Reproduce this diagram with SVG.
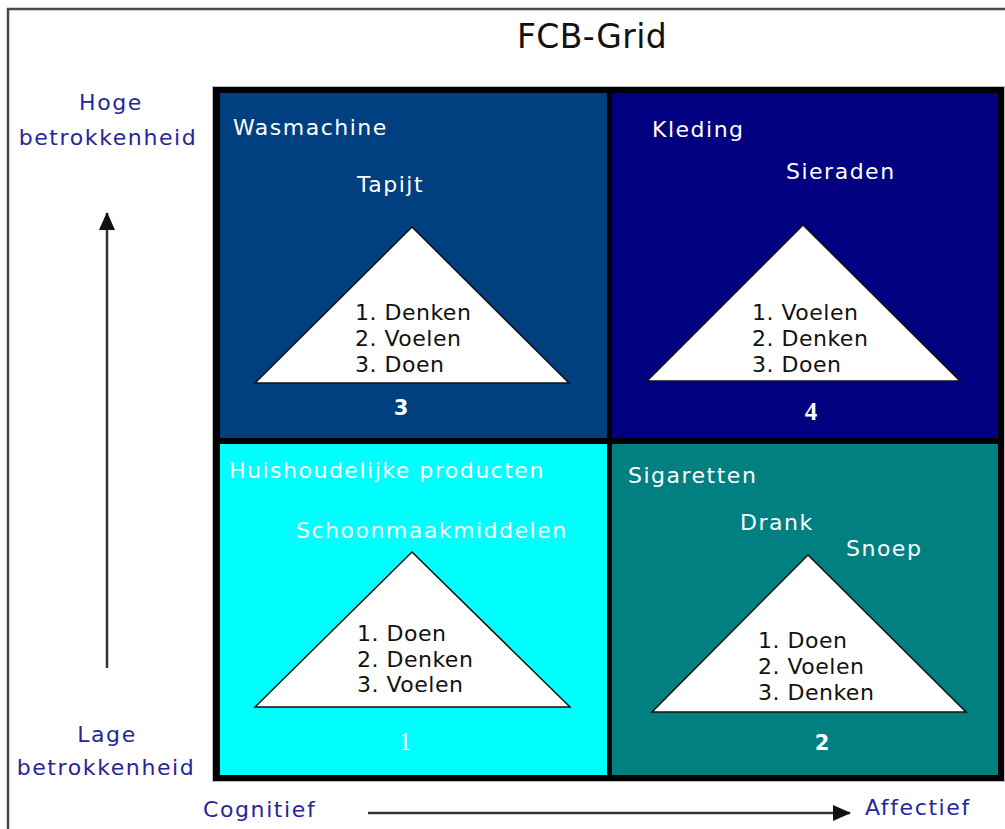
<svg xmlns="http://www.w3.org/2000/svg" width="1005" height="829" viewBox="0 0 1005 829">
  <defs>
    <marker id="arrowHead" viewBox="0 0 18 18" refX="17" refY="9" markerWidth="18" markerHeight="18" markerUnits="userSpaceOnUse" orient="auto">
      <path d="M0,1 L18,9 L0,17 Z" fill="#111"/>
    </marker>
    <style>
      .title { font-family: "DejaVu Sans", Verdana, sans-serif; font-size: 33px; fill: #111; letter-spacing: 0.4px; }
      .axis { font-family: "DejaVu Sans", Verdana, sans-serif; font-size: 22px; fill: #26269c; letter-spacing: 1.6px; }
      .lbl { font-family: "DejaVu Sans", Verdana, sans-serif; font-size: 22px; fill: #ffffff; letter-spacing: 1.5px; }
      .steps { font-family: "DejaVu Sans", Verdana, sans-serif; font-size: 22px; fill: #111; letter-spacing: 0.5px; }
      .num { font-family: "DejaVu Sans", Verdana, sans-serif; font-size: 21px; font-weight: bold; fill: #ffffff; text-anchor: middle; }
      .numSerif { font-family: "Liberation Serif", "Times New Roman", serif; font-size: 25px; fill: #ffffff; text-anchor: middle; }
      .tri { fill: #ffffff; stroke: #111; stroke-width: 1.5; }
      .axisLine { stroke: #333; stroke-width: 2.5; fill: none; }
    </style>
  </defs>

  <!-- page background and outer frame -->
  <rect x="0" y="0" width="1005" height="829" fill="#ffffff"/>
  <path d="M8,829 L8,9 L1005,9" fill="none" stroke="#4a4a4a" stroke-width="2.5"/>

  <text class="title" x="592" y="48" text-anchor="middle">FCB-Grid</text>

  <!-- grid frame -->
  <rect x="212.5" y="86.5" width="792" height="695" fill="#000" stroke="#bbb" stroke-width="1"/>

  <!-- quadrant 3: high involvement, cognitive -->
  <g id="q3">
    <rect x="220" y="93" width="387" height="345" fill="#004080"/>
    <text class="lbl" x="233" y="135">Wasmachine</text>
    <text class="lbl" x="357" y="192">Tapijt</text>
    <polygon class="tri" points="412,227 569,383 255,383"/>
    <text class="steps" x="355" y="320">1. Denken</text>
    <text class="steps" x="355" y="346">2. Voelen</text>
    <text class="steps" x="355" y="372">3. Doen</text>
    <text class="num" x="401" y="415">3</text>
  </g>

  <!-- quadrant 4: high involvement, affective -->
  <g id="q4">
    <rect x="612" y="93" width="386" height="345" fill="#000080"/>
    <text class="lbl" x="652" y="137">Kleding</text>
    <text class="lbl" x="786" y="179">Sieraden</text>
    <polygon class="tri" points="803,225 960,381 647,381"/>
    <text class="steps" x="752" y="320">1. Voelen</text>
    <text class="steps" x="752" y="346">2. Denken</text>
    <text class="steps" x="752" y="372">3. Doen</text>
    <text class="numSerif" x="811" y="420" font-weight="bold">4</text>
  </g>

  <!-- quadrant 1: low involvement, cognitive -->
  <g id="q1">
    <rect x="220" y="444" width="387" height="331" fill="#00ffff"/>
    <text class="lbl" x="229" y="478">Huishoudelijke producten</text>
    <text class="lbl" x="296" y="538">Schoonmaakmiddelen</text>
    <polygon class="tri" points="412,552 570,707 255,707"/>
    <text class="steps" x="357" y="641">1. Doen</text>
    <text class="steps" x="357" y="667">2. Denken</text>
    <text class="steps" x="357" y="692">3. Voelen</text>
    <text class="numSerif" x="405" y="750">1</text>
  </g>

  <!-- quadrant 2: low involvement, affective -->
  <g id="q2">
    <rect x="612" y="444" width="386" height="331" fill="#008080"/>
    <text class="lbl" x="628" y="483">Sigaretten</text>
    <text class="lbl" x="740" y="530">Drank</text>
    <text class="lbl" x="846" y="556">Snoep</text>
    <polygon class="tri" points="808,555 966,712 652,712"/>
    <text class="steps" x="758" y="648">1. Doen</text>
    <text class="steps" x="758" y="674">2. Voelen</text>
    <text class="steps" x="758" y="700">3. Denken</text>
    <text class="num" x="822" y="750">2</text>
  </g>

  <!-- axis labels -->
  <g id="axis-labels">
    <text class="axis" x="111" y="110" text-anchor="middle">Hoge</text>
    <text class="axis" x="108" y="145" text-anchor="middle">betrokkenheid</text>
    <text class="axis" x="107" y="742" text-anchor="middle">Lage</text>
    <text class="axis" x="106" y="775" text-anchor="middle">betrokkenheid</text>
    <text class="axis" x="203" y="817">Cognitief</text>
    <text class="axis" x="865" y="815">Affectief</text>
  </g>

  <!-- axis arrows -->
  <g id="connectors">
    <line class="axisLine" x1="107" y1="668" x2="107" y2="213" marker-end="url(#arrowHead)"/>
    <line class="axisLine" x1="368" y1="813" x2="850" y2="813" marker-end="url(#arrowHead)"/>
  </g>
</svg>
